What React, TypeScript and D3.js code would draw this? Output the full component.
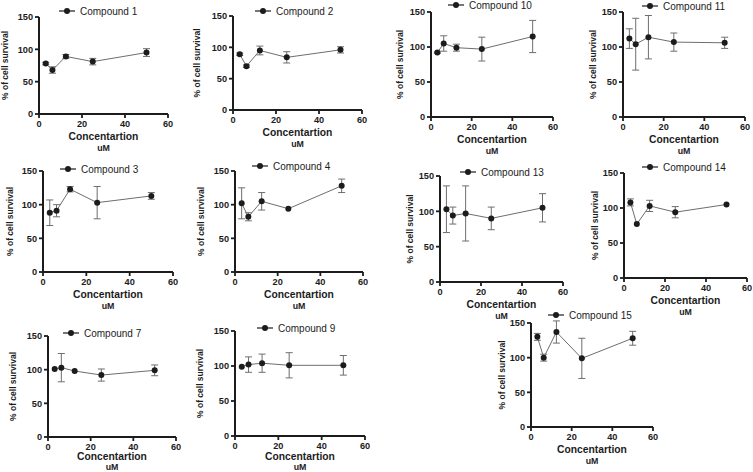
import React from 'react';
import { scaleLinear, line } from 'd3';

// concentrations (uM) shared by every compound
const concentrations = [3.125, 6.25, 12.5, 25, 50];
const xTicks = [0, 20, 40, 60];
const yTicks = [0, 50, 100, 150];

const compounds = ['Compound 1', 'Compound 2', 'Compound 10', 'Compound 11', 'Compound 3', 'Compound 4', 'Compound 13', 'Compound 14', 'Compound 7', 'Compound 9', 'Compound 15'];

// mean % survival per compound (same order as compounds)
const means = [
  [78, 68, 89, 81, 95],
  [89, 70, 95, 84, 96],
  [92, 105, 99, 97, 115],
  [112, 104, 114, 107, 106],
  [88, 91, 123, 103, 113],
  [102, 82, 105, 94, 128],
  [103, 94, 97, 90, 105],
  [108, 77, 103, 94, 105],
  [101, 103, 98, 92, 99],
  [99, 102, 104, 101, 101],
  [130, 100, 137, 99, 128],
];

// error bar half-widths
const errors = [
  [2, 5, 3, 5, 6],
  [2, 2, 7, 9, 5],
  [1, 11, 5, 17, 23],
  [14, 37, 31, 13, 8],
  [19, 9, 4, 24, 5],
  [23, 6, 13, 0, 10],
  [33, 12, 39, 16, 20],
  [5, 0, 8, 8, 0],
  [0, 21, 0, 9, 8],
  [0, 11, 13, 18, 14],
  [5, 5, 16, 29, 10],
];

// panel layout in page pixels
const layout = [
  { x0: 39, x1: 168, yT: 17, yB: 114, ly: 11, lx: 59, dl: 34, dc: 26, du: 37 },
  { x0: 233, x1: 362, yT: 16, yB: 110, ly: 11, lx: 255, dl: 36, dc: 26, du: 37 },
  { x0: 431, x1: 553, yT: 12, yB: 117, ly: 5, lx: 448, dl: 31, dc: 26, du: 37 },
  { x0: 623, x1: 745, yT: 12, yB: 117, ly: 6, lx: 642, dl: 30, dc: 26, du: 37 },
  { x0: 43, x1: 173, yT: 171, yB: 272, ly: 169, lx: 60, dl: 33, dc: 26, du: 37 },
  { x0: 235, x1: 363, yT: 171, yB: 272, ly: 166, lx: 252, dl: 34, dc: 26, du: 37 },
  { x0: 440, x1: 563, yT: 176, yB: 282, ly: 172, lx: 460, dl: 30, dc: 26, du: 37 },
  { x0: 624, x1: 747, yT: 173, yB: 278, ly: 167, lx: 642, dl: 29, dc: 26, du: 37 },
  { x0: 48, x1: 176, yT: 336, yB: 437, ly: 333, lx: 63, dl: 35, dc: 22.5, du: 32.8 },
  { x0: 235, x1: 365, yT: 331, yB: 436, ly: 328, lx: 257, dl: 35, dc: 23.5, du: 33.8 },
  { x0: 531, x1: 653, yT: 323, yB: 427, ly: 315, lx: 548, dl: 29, dc: 26, du: 37 },
];

const ink = '#1c1c1c';
const grey = '#6e6e6e';
const font = 'Arial, "Liberation Sans", sans-serif';

const Panel = ({ i }: { i: number }) => {
  const p = layout[i];
  const x = scaleLinear().domain([0, 60]).range([p.x0, p.x1]);
  const y = scaleLinear().domain([0, 150]).range([p.yB, p.yT]);
  const pts = concentrations.map((c, j) => ({ c, m: means[i][j], e: errors[i][j] }));
  const path = line<any>()
    .x((d) => x(d.c))
    .y((d) => y(d.m))(pts);
  const cx = (p.x0 + p.x1) / 2;
  const cy = (p.yT + p.yB) / 2;

  return (
    <g>
      {/* series line */}
      <path d={path || ''} fill="none" stroke={grey} strokeWidth={1} />
      {/* error bars */}
      {pts.filter((d) => d.e > 0).map((d, j) => (
        <g key={j} stroke={grey} strokeWidth={1}>
          <line x1={x(d.c)} x2={x(d.c)} y1={y(d.m + d.e)} y2={y(d.m - d.e)} />
          <line x1={x(d.c) - 3.5} x2={x(d.c) + 3.5} y1={y(d.m + d.e)} y2={y(d.m + d.e)} />
          <line x1={x(d.c) - 3.5} x2={x(d.c) + 3.5} y1={y(d.m - d.e)} y2={y(d.m - d.e)} />
        </g>
      ))}
      {pts.map((d, j) => (
        <circle key={j} cx={x(d.c)} cy={y(d.m)} r={3} fill={ink} />
      ))}

      {/* axes */}
      <line x1={p.x0} x2={p.x0} y1={p.yT} y2={p.yB} stroke={ink} strokeWidth={2} />
      <line x1={p.x0 - 1} x2={p.x1} y1={p.yB} y2={p.yB} stroke={ink} strokeWidth={2} />
      {yTicks.map((t) => (
        <g key={t}>
          <line x1={p.x0 - 4} x2={p.x0} y1={y(t)} y2={y(t)} stroke={ink} strokeWidth={1.8} />
          <text x={p.x0 - 6} y={y(t)} dy="0.35em" textAnchor="end" fontSize={9.2} fontWeight="bold" fill={ink}>
            {t}
          </text>
        </g>
      ))}
      {xTicks.map((t) => (
        <g key={t}>
          <line x1={x(t)} x2={x(t)} y1={p.yB} y2={p.yB + 4} stroke={ink} strokeWidth={1.8} />
          <text x={x(t)} y={p.yB + 13} textAnchor="middle" fontSize={9.2} fontWeight="bold" fill={ink}>
            {t}
          </text>
        </g>
      ))}

      {/* titles */}
      <text x={cx} y={p.yB + p.dc} textAnchor="middle" fontSize={10.3} fontWeight="bold" fill={ink}>
        Concentartion
      </text>
      <text x={cx} y={p.yB + p.du} textAnchor="middle" fontSize={8.8} fontWeight="bold" fill={ink}>
        uM
      </text>
      <text
        transform={`translate(${p.x0 - p.dl},${cy}) rotate(-90)`}
        textAnchor="middle"
        dy="0.35em"
        fontSize={8.5}
        fontWeight="bold"
        fill={ink}
      >
        % of cell survival
      </text>

      {/* legend */}
      <line x1={p.lx} x2={p.lx + 16} y1={p.ly} y2={p.ly} stroke={ink} strokeWidth={1.2} />
      <circle cx={p.lx + 8} cy={p.ly} r={3} fill={ink} />
      <text x={p.lx + 21} y={p.ly} dy="0.35em" fontSize={10} fill={ink}>
        {compounds[i]}
      </text>
    </g>
  );
};

export default function App() {
  return (
    <svg
      width={753}
      height={472}
      style={{ position: 'absolute', left: 0, top: 0, background: '#fff' }}
      fontFamily={font}
    >
      <rect width={753} height={472} fill="#fff" />
      {compounds.map((_, i) => (
        <Panel key={i} i={i} />
      ))}
    </svg>
  );
}
